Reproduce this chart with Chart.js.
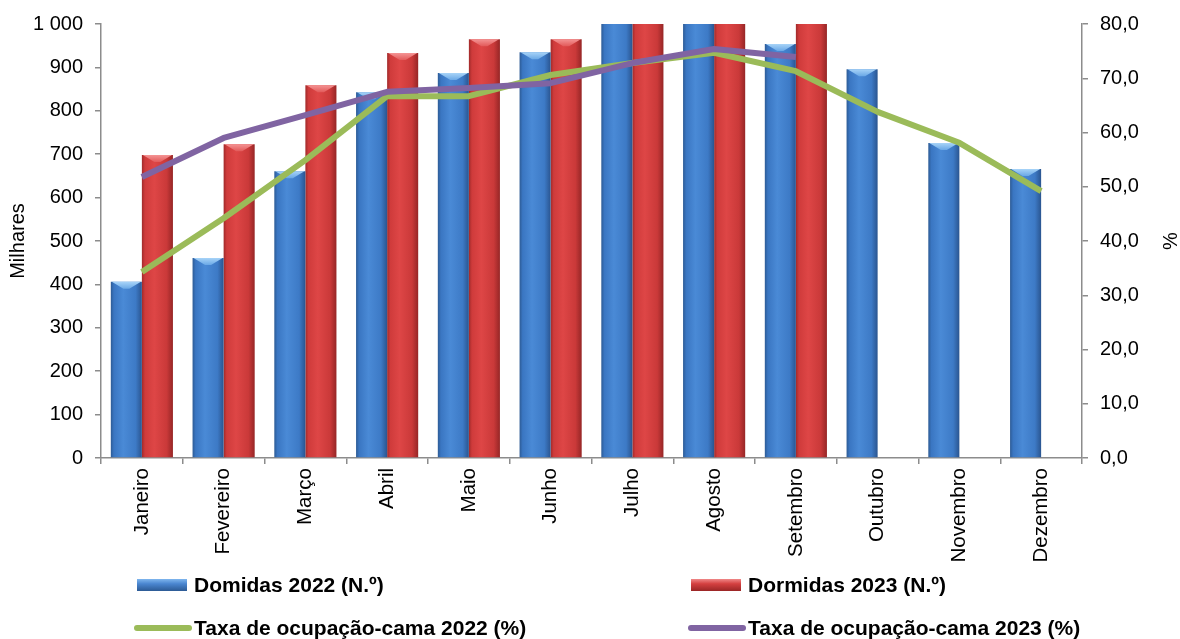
<!DOCTYPE html>
<html>
<head>
<meta charset="utf-8">
<script src="https://cdn.jsdelivr.net/npm/chart.js@4.4.1/dist/chart.umd.min.js"></script>
<style>
  html, body { margin:0; padding:0; background:#fff; }
  #wrap { position:relative; width:1180px; height:639px; }
  #legend { position:absolute; left:0; top:0; width:1180px; height:639px; pointer-events:none;
            font-family:"Liberation Sans", Arial, sans-serif; font-weight:bold; font-size:21px; color:#000; }
  .li { position:absolute; display:flex; align-items:center; white-space:nowrap; }
  .sw { display:inline-block; margin-right:6px; }
</style>
</head>
<body>
<div id="wrap">
  <canvas id="c" width="1180" height="639"></canvas>
  <div id="legend"></div>
</div>
<script>
const months = ["Janeiro","Fevereiro","Março","Abril","Maio","Junho","Julho","Agosto","Setembro","Outubro","Novembro","Dezembro"];
const dormidas2022 = [406, 461, 661, 843, 887, 935, 1100, 1180, 954, 896, 726, 666];
const dormidas2023 = [698, 723, 859, 933, 965, 965, 1150, 1210, 1060, null, null, null];
const taxa2022 = [34.3, 44.2, 54.9, 66.7, 66.7, 70.6, 72.8, 74.7, 71.3, 63.8, 58.1, 49.2];
const taxa2023 = [51.8, 59.0, 63.2, 67.5, 68.2, 69.1, 72.8, 75.4, 73.9, null, null, null];
const leftTicks = [0, 100, 200, 300, 400, 500, 600, 700, 800, 900, 1000];
const rightTicks = [0, 10, 20, 30, 40, 50, 60, 70, 80];
const seriesNames = ["Domidas 2022 (N.º)", "Dormidas 2023 (N.º)", "Taxa de ocupação-cama 2022 (%)", "Taxa de ocupação-cama 2023 (%)"];

const FONT = '"Liberation Sans", Arial, sans-serif';
const CAT_PCT = 0.76;
const blueStops = [[0,'#2d5b95'],[0.1,'#3a76c2'],[0.4,'#4a8ad6'],[0.8,'#3d7ac6'],[1,'#2a5590']];
const redStops  = [[0,'#a02a2a'],[0.1,'#cf3b3b'],[0.4,'#de4646'],[0.8,'#ca3939'],[1,'#962626']];

function barGradient(stops, side) {
  return (ctx) => {
    const chart = ctx.chart;
    const xs = chart.scales && chart.scales.x;
    if (!xs || !chart.chartArea || ctx.type !== 'data') return stops[2][1];
    const cw = xs.width / months.length;
    const bw = cw * CAT_PCT / 2;
    const cx = xs.getPixelForValue(ctx.dataIndex) + side * bw / 2;
    const g = chart.ctx.createLinearGradient(cx - bw/2, 0, cx + bw/2, 0);
    stops.forEach(s => g.addColorStop(s[0], s[1]));
    return g;
  };
}

const bevelPlugin = {
  id: 'bevel',
  afterDatasetDraw(chart, args) {
    const meta = args.meta;
    if (meta.type !== 'bar') return;
    const ctx = chart.ctx;
    const yMax = chart.scales.y.max;
    const light = meta.index === 2 ? ['#a8d4f8', '#6aa8e6'] : ['#f49494', '#e25a5a'];
    ctx.save();
    meta.data.forEach((el, i) => {
      const v = chart.data.datasets[meta.index].data[i];
      if (v == null || v > yMax) return;
      const w = el.width, l = el.x - w/2, r = el.x + w/2, t = el.y;
      const d = 7;
      const g = ctx.createLinearGradient(0, t, 0, t + d);
      g.addColorStop(0, light[0]); g.addColorStop(1, light[1]);
      ctx.fillStyle = g;
      ctx.beginPath();
      ctx.moveTo(l + 1, t); ctx.lineTo(r - 1, t); ctx.lineTo(el.x + 3, t + d); ctx.lineTo(el.x - 3, t + d); ctx.closePath();
      ctx.fill();
    });
    ctx.restore();
  }
};

const pctTitle = {
  id: 'pctTitle',
  afterDraw(chart) {
    const ctx = chart.ctx;
    const a = chart.chartArea;
    ctx.save();
    ctx.translate(1171, (a.top + a.bottom) / 2);
    ctx.rotate(-Math.PI / 2);
    ctx.font = '20px ' + FONT;
    ctx.fillStyle = '#000';
    ctx.textAlign = 'center';
    ctx.textBaseline = 'middle';
    ctx.fillText('%', 0, 0);
    ctx.restore();
  }
};

const axisGrid = { drawOnChartArea: false, drawTicks: true, tickLength: 6, color: '#8c8c8c', lineWidth: 1.5 };
const axisBorder = { display: true, color: '#8c8c8c', width: 1.5 };

const chart = new Chart(document.getElementById('c'), {
  data: {
    labels: months,
    datasets: [
      { type: 'line', label: seriesNames[3], data: taxa2023, yAxisID: 'y1', borderColor: '#8064a2', backgroundColor: '#8064a2',
        borderWidth: 6, pointRadius: 0, tension: 0, borderJoinStyle: 'round', order: 0 },
      { type: 'line', label: seriesNames[2], data: taxa2022, yAxisID: 'y1', borderColor: '#9bbb59', backgroundColor: '#9bbb59',
        borderWidth: 6, pointRadius: 0, tension: 0, borderJoinStyle: 'round', order: 1 },
      { type: 'bar', label: seriesNames[0], data: dormidas2022, yAxisID: 'y', backgroundColor: barGradient(blueStops, -1),
        borderWidth: 0, categoryPercentage: CAT_PCT, barPercentage: 1.0, order: 2 },
      { type: 'bar', label: seriesNames[1], data: dormidas2023, yAxisID: 'y', backgroundColor: barGradient(redStops, 1),
        borderWidth: 0, categoryPercentage: CAT_PCT, barPercentage: 1.0, order: 3 }
    ]
  },
  options: {
    responsive: false,
    animation: false,
    devicePixelRatio: 1,
    layout: { padding: { top: 24, left: 0, right: 0, bottom: 0 } },
    plugins: { legend: { display: false }, tooltip: { enabled: false } },
    scales: {
      x: {
        offset: true,
        grid: Object.assign({ offset: true }, axisGrid),
        border: axisBorder,
        ticks: { minRotation: 90, maxRotation: 90, autoSkip: false, padding: 4, color: '#000', font: { family: FONT, size: 20.5 } },
        afterFit(s) { s.height = 181; }
      },
      y: {
        position: 'left', min: 0, max: 1000,
        afterBuildTicks(s) { s.ticks = leftTicks.map(v => ({ value: v })); },
        grid: axisGrid, border: axisBorder,
        ticks: { padding: 12, color: '#000', font: { family: FONT, size: 20 },
                 callback: v => String(v).replace(/\B(?=(\d{3})+(?!\d))/g, ' ') },
        title: { display: true, text: 'Milhares', color: '#000', font: { family: FONT, size: 20 }, padding: { top: 6, bottom: 0 } },
        afterFit(s) { s.width = 101; }
      },
      y1: {
        position: 'right', min: 0, max: 80,
        afterBuildTicks(s) { s.ticks = rightTicks.map(v => ({ value: v })); },
        grid: axisGrid, border: axisBorder,
        ticks: { padding: 12, color: '#000', font: { family: FONT, size: 20 },
                 callback: v => Number(v).toFixed(1).replace('.', ',') },
        afterFit(s) { s.width = 98; }
      }
    }
  },
  plugins: [bevelPlugin, pctTitle]
});

// HTML legend built from the chart datasets
(function buildLegend() {
  const lg = document.getElementById('legend');
  const byLabel = {};
  chart.data.datasets.forEach(d => byLabel[d.label] = d);
  const layout = [
    { name: seriesNames[0], left: 137, top: 585, kind: 'bar', grad: 'linear-gradient(#7fb6ee,#4a86d0 40%,#2c5a94)' },
    { name: seriesNames[1], left: 691, top: 585, kind: 'bar', grad: 'linear-gradient(#f08888,#d44040 40%,#9a2626)' },
    { name: seriesNames[2], left: 134, top: 628, kind: 'line' },
    { name: seriesNames[3], left: 688, top: 628, kind: 'line' }
  ];
  layout.forEach(it => {
    const d = byLabel[it.name];
    const item = document.createElement('div');
    item.className = 'li';
    item.style.left = it.left + 'px';
    item.style.top = (it.top - 12) + 'px';
    item.style.height = '24px';
    const sw = document.createElement('span');
    sw.className = 'sw';
    if (it.kind === 'bar') {
      sw.style.width = '50px'; sw.style.height = '12px'; sw.style.background = it.grad;
      sw.style.marginRight = '7px';
    } else {
      sw.style.width = '58px'; sw.style.height = '6px'; sw.style.background = d.borderColor;
      sw.style.borderRadius = '3px'; sw.style.marginRight = '2px';
    }
    const tx = document.createElement('span');
    tx.textContent = d.label;
    item.appendChild(sw); item.appendChild(tx);
    lg.appendChild(item);
  });
})();
</script>
</body>
</html>
